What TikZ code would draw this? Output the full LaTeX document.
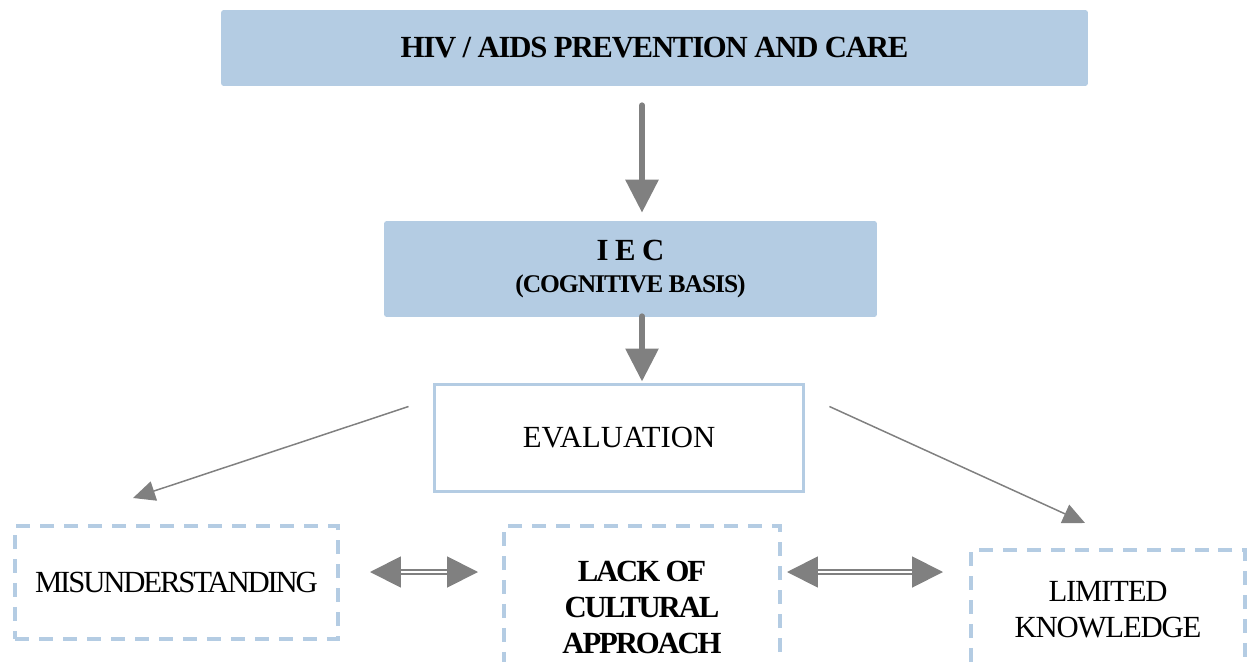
\documentclass[tikz,border=0pt]{standalone}
\usepackage{fontspec}
\setmainfont{Liberation Serif}
\usetikzlibrary{arrows.meta,calc}
\definecolor{boxblue}{RGB}{180,204,227}
\definecolor{arrowgray}{RGB}{128,128,128}
\newcommand{\narrowtext}{\addfontfeature{LetterSpace=-4}}
\newcommand{\narrowertext}{\addfontfeature{LetterSpace=-7}}
\tikzset{
  headbox/.style={fill=boxblue, rounded corners=1.5pt, align=center, inner sep=0pt,
    font=\fontsize{17.5}{21}\selectfont\bfseries\narrowtext},
  evalbox/.style={draw=boxblue, line width=1.7pt, fill=white, inner sep=0pt,
    minimum width=7.38cm, minimum height=2.14cm, font=\fontsize{17.5}{21}\selectfont},
  issuebox/.style={draw=boxblue, line width=2.3pt, dash pattern=on 0.28cm off 0.2cm,
    align=center, inner sep=0pt, font=\fontsize{17.5}{20.5}\selectfont\narrowtext},
  bigarrow/.style={draw=arrowgray, line width=3.4pt, line cap=round,
    -{Triangle[length=0.66cm,width=0.64cm]}},
  thinarrow/.style={draw=arrowgray, line width=0.85pt,
    -{Triangle[length=0.44cm,width=0.4cm]}},
  dblarrow/.style={draw=arrowgray, line width=1.1pt, double=white, double distance=1.1pt,
    {Triangle[length=0.62cm,width=0.62cm]}-{Triangle[length=0.62cm,width=0.62cm]}}
}
\begin{document}
\begin{tikzpicture}[x=0.02cm, y=-0.02cm]
  \useasboundingbox (0,0) rectangle (1247,662);
  \clip (0,0) rectangle (1247,662);

  \node[headbox, minimum width=17.34cm, minimum height=1.52cm] (top) at (654.5,48) {HIV / AIDS PREVENTION AND CARE};
  \node[headbox, minimum width=9.86cm, minimum height=1.92cm] (iec) at (630.5,269)
    {I E C\\[-3pt]{\fontsize{14.5}{17}\selectfont (COGNITIVE BASIS)}};
  \node[evalbox] (ev) at (619,438) {EVALUATION};

  \node[issuebox, minimum width=6.46cm, minimum height=2.26cm,
    font=\fontsize{17.5}{20.5}\selectfont\narrowertext] (mis) at (176.5,582.5) {MISUNDERSTANDING};
  \node[issuebox, minimum width=5.52cm, minimum height=3.24cm,
    font=\fontsize{17.5}{20.5}\selectfont\bfseries\narrowertext] (lack) at (642,607)
    {LACK OF\\CULTURAL\\APPROACH};
  \node[issuebox, minimum width=5.5cm, minimum height=2.4cm] (lim) at (1108,610) {LIMITED\\KNOWLEDGE};

  \draw[bigarrow] ($(top.south)+(-12.5,19)$) -- ($(iec.north)+(11.5,-8)$);
  \draw[bigarrow] ($(iec.south)+(11.5,-1)$) -- ($(ev.north)+(23,-1.5)$);

  \draw[thinarrow] ($(ev.north west)+(-24.5,23.5)$) -- ($(mis.north)+(-43.5,-26)$);
  \draw[thinarrow] ($(ev.north east)+(24.5,23.5)$) -- ($(lim.north)+(-23,-25)$);

  \draw[dblarrow] ($(mis.east)+(30,-10.5)$) -- ($(mis.east -| lack.west)+(-24,-10.5)$);
  \draw[dblarrow] ($(lack.east)+(5,-35)$) -- ($(lack.east -| lim.west)+(-25.5,-35)$);
\end{tikzpicture}
\end{document}
